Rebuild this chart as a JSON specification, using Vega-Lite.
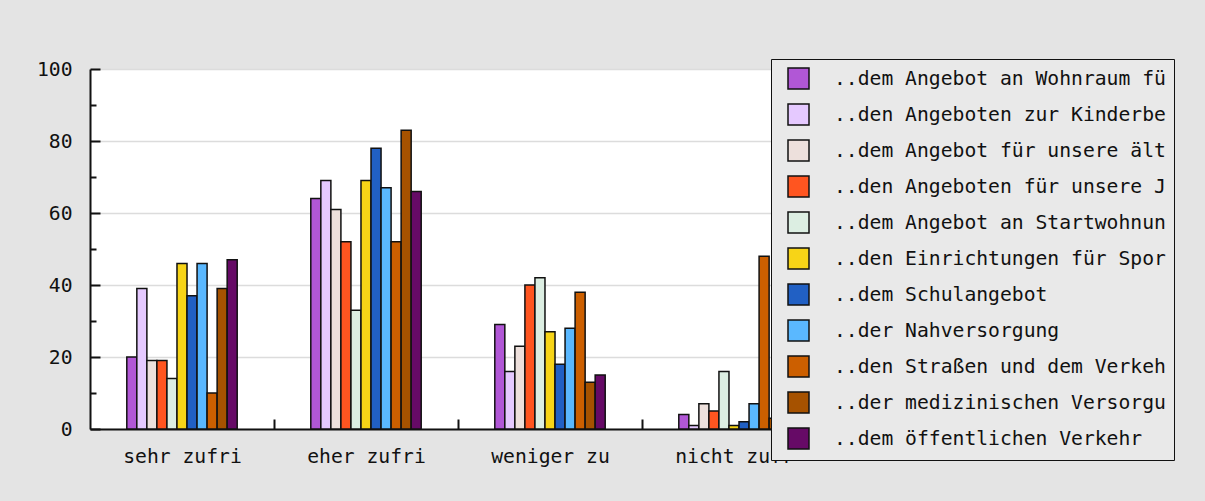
{
  "$schema": "https://vega.github.io/schema/vega-lite/v6.json",
  "width": 736,
  "height": 360,
  "autosize": {"type": "none"},
  "padding": {"left": 90, "top": 69, "right": 379, "bottom": 72},
  "background": "#e4e4e4",
  "config": {"view": {"fill": "white", "stroke": null}, "font": "DejaVu Sans Mono"},
  "data": {"values": [
    {"cat": "sehr zufri", "series": "..dem Angebot an Wohnraum fü", "value": 20},
    {"cat": "sehr zufri", "series": "..den Angeboten zur Kinderbe", "value": 39},
    {"cat": "sehr zufri", "series": "..dem Angebot für unsere ält", "value": 19},
    {"cat": "sehr zufri", "series": "..den Angeboten für unsere J", "value": 19},
    {"cat": "sehr zufri", "series": "..dem Angebot an Startwohnun", "value": 14},
    {"cat": "sehr zufri", "series": "..den Einrichtungen für Spor", "value": 46},
    {"cat": "sehr zufri", "series": "..dem Schulangebot", "value": 37},
    {"cat": "sehr zufri", "series": "..der Nahversorgung", "value": 46},
    {"cat": "sehr zufri", "series": "..den Straßen und dem Verkeh", "value": 10},
    {"cat": "sehr zufri", "series": "..der medizinischen Versorgu", "value": 39},
    {"cat": "sehr zufri", "series": "..dem öffentlichen Verkehr", "value": 47},
    {"cat": "eher zufri", "series": "..dem Angebot an Wohnraum fü", "value": 64},
    {"cat": "eher zufri", "series": "..den Angeboten zur Kinderbe", "value": 69},
    {"cat": "eher zufri", "series": "..dem Angebot für unsere ält", "value": 61},
    {"cat": "eher zufri", "series": "..den Angeboten für unsere J", "value": 52},
    {"cat": "eher zufri", "series": "..dem Angebot an Startwohnun", "value": 33},
    {"cat": "eher zufri", "series": "..den Einrichtungen für Spor", "value": 69},
    {"cat": "eher zufri", "series": "..dem Schulangebot", "value": 78},
    {"cat": "eher zufri", "series": "..der Nahversorgung", "value": 67},
    {"cat": "eher zufri", "series": "..den Straßen und dem Verkeh", "value": 52},
    {"cat": "eher zufri", "series": "..der medizinischen Versorgu", "value": 83},
    {"cat": "eher zufri", "series": "..dem öffentlichen Verkehr", "value": 66},
    {"cat": "weniger zu", "series": "..dem Angebot an Wohnraum fü", "value": 29},
    {"cat": "weniger zu", "series": "..den Angeboten zur Kinderbe", "value": 16},
    {"cat": "weniger zu", "series": "..dem Angebot für unsere ält", "value": 23},
    {"cat": "weniger zu", "series": "..den Angeboten für unsere J", "value": 40},
    {"cat": "weniger zu", "series": "..dem Angebot an Startwohnun", "value": 42},
    {"cat": "weniger zu", "series": "..den Einrichtungen für Spor", "value": 27},
    {"cat": "weniger zu", "series": "..dem Schulangebot", "value": 18},
    {"cat": "weniger zu", "series": "..der Nahversorgung", "value": 28},
    {"cat": "weniger zu", "series": "..den Straßen und dem Verkeh", "value": 38},
    {"cat": "weniger zu", "series": "..der medizinischen Versorgu", "value": 13},
    {"cat": "weniger zu", "series": "..dem öffentlichen Verkehr", "value": 15},
    {"cat": "nicht zufr", "series": "..dem Angebot an Wohnraum fü", "value": 4},
    {"cat": "nicht zufr", "series": "..den Angeboten zur Kinderbe", "value": 1},
    {"cat": "nicht zufr", "series": "..dem Angebot für unsere ält", "value": 7},
    {"cat": "nicht zufr", "series": "..den Angeboten für unsere J", "value": 5},
    {"cat": "nicht zufr", "series": "..dem Angebot an Startwohnun", "value": 16},
    {"cat": "nicht zufr", "series": "..den Einrichtungen für Spor", "value": 1},
    {"cat": "nicht zufr", "series": "..dem Schulangebot", "value": 2},
    {"cat": "nicht zufr", "series": "..der Nahversorgung", "value": 7},
    {"cat": "nicht zufr", "series": "..den Straßen und dem Verkeh", "value": 48},
    {"cat": "nicht zufr", "series": "..der medizinischen Versorgu", "value": 3},
    {"cat": "nicht zufr", "series": "..dem öffentlichen Verkehr", "value": 3}
  ]},
  "mark": {"type": "bar", "stroke": "#111", "strokeWidth": 1.5},
  "encoding": {
    "x": {
      "field": "cat", "type": "nominal", "sort": null,
      "scale": {"paddingInner": 0.4, "paddingOuter": 0.2},
      "axis": {
        "title": null, "labelAngle": 0, "tickSize": -10, "tickOffset": 92, "labelOffset": -92,
        "tickColor": "#111", "tickWidth": 2, "domainColor": "#111", "domainWidth": 2,
        "labelFont": "DejaVu Sans Mono", "labelFontSize": 19.7, "labelColor": "#111",
        "labelPadding": 27, "grid": false
      }
    },
    "xOffset": {
      "field": "series", "type": "nominal", "sort": null,
      "scale": {"paddingInner": 0, "paddingOuter": 0}
    },
    "y": {
      "field": "value", "type": "quantitative",
      "scale": {"domain": [0, 100], "nice": false},
      "axis": {
        "title": null,
        "values": [0, 10, 20, 30, 40, 50, 60, 70, 80, 90, 100],
        "labelExpr": "datum.value % 20 === 0 ? datum.label : ''",
        "tickSize": {"condition": {"test": "datum.value % 20 === 0", "value": -10}, "value": -6},
        "gridOpacity": {"condition": {"test": "datum.value % 20 === 0", "value": 1}, "value": 0},
        "gridColor": "#dcdcdc", "gridWidth": 1.5,
        "tickColor": "#111", "tickWidth": 2, "domainColor": "#111", "domainWidth": 2,
        "labelFont": "DejaVu Sans Mono", "labelFontSize": 19.7, "labelColor": "#111",
        "labelPadding": 28
      }
    },
    "color": {
      "field": "series", "type": "nominal", "sort": null,
      "scale": {
        "domain": ["..dem Angebot an Wohnraum fü", "..den Angeboten zur Kinderbe", "..dem Angebot für unsere ält", "..den Angeboten für unsere J", "..dem Angebot an Startwohnun", "..den Einrichtungen für Spor", "..dem Schulangebot", "..der Nahversorgung", "..den Straßen und dem Verkeh", "..der medizinischen Versorgu", "..dem öffentlichen Verkehr"],
        "range": ["#B157D6", "#E5C9FF", "#EDE0DC", "#FF5520", "#DCEEE2", "#F7D417", "#2160C4", "#5AB8FF", "#CC5F00", "#A65200", "#660A66"]
      },
      "legend": {
        "orient": "none", "legendX": 681, "legendY": -10, "title": null, "zindex": 1,
        "fillColor": "#e9e9e9", "strokeColor": "#111",
        "padding": 8, "symbolOffset": 8, "symbolType": "square", "symbolSize": 441,
        "symbolStrokeColor": "#111", "symbolStrokeWidth": 1.5, "symbolOpacity": 1,
        "labelOffset": 24, "labelFont": "DejaVu Sans Mono", "labelFontSize": 19.7,
        "labelLimit": 600, "labelColor": "#111", "rowPadding": 9
      }
    }
  }
}
